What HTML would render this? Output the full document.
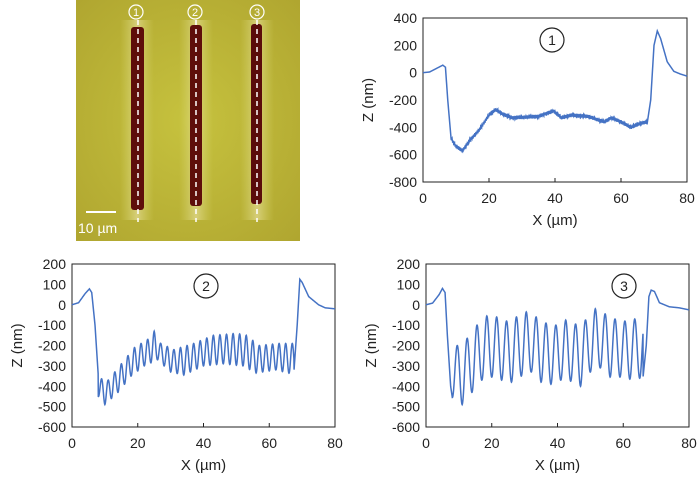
<!DOCTYPE html>
<html><head><meta charset="utf-8"><style>
body{margin:0;background:#fff;}
svg text{font-family:"Liberation Sans",Arial,sans-serif;fill:#222;}
</style></head><body>
<svg id="s" width="700" height="479" viewBox="0 0 700 479" xmlns="http://www.w3.org/2000/svg">
<defs>
<radialGradient id="bg" cx="0.5" cy="0.5" r="0.7"><stop offset="0" stop-color="#c6c23e"/><stop offset="1" stop-color="#b0a630"/></radialGradient>
<linearGradient id="glow" x1="0" x2="1"><stop offset="0" stop-color="#d8d870" stop-opacity="0"/><stop offset="0.5" stop-color="#e4dc98" stop-opacity="0.7"/><stop offset="1" stop-color="#d8d870" stop-opacity="0"/></linearGradient>
</defs>
<rect x="76" y="0" width="224" height="241" fill="url(#bg)"/>
<rect x="120" y="20" width="34" height="200" fill="url(#glow)"/>
<rect x="179" y="20" width="34" height="200" fill="url(#glow)"/>
<rect x="240" y="20" width="34" height="200" fill="url(#glow)"/>
<rect x="131" y="27" width="13" height="183" fill="#5e0e0a" rx="3"/>
<rect x="190" y="25" width="12" height="181" fill="#5e0e0a" rx="3"/>
<rect x="251" y="24" width="11" height="180" fill="#5a0c0a" rx="3"/>
<g stroke="#fff" stroke-width="1.5" stroke-dasharray="5,4">
<line x1="138" y1="20" x2="138" y2="222"/><line x1="196" y1="20" x2="196" y2="222"/><line x1="257" y1="20" x2="257" y2="222"/>
</g>
<g fill="none" stroke="#fff" stroke-width="1.2"><circle cx="136" cy="12" r="7"/><circle cx="195" cy="12" r="7"/><circle cx="257" cy="12" r="7"/></g>
<g font-size="11" text-anchor="middle"><text x="136" y="16" style="fill:#fff">1</text><text x="195" y="16" style="fill:#fff">2</text><text x="257" y="16" style="fill:#fff">3</text></g>
<line x1="86" y1="212" x2="116" y2="212" stroke="#fff" stroke-width="2"/>
<text x="78" y="233" font-size="14" style="fill:#fff">10 µm</text>
<g id="charts"></g>
</svg>
<script>
const NS="http://www.w3.org/2000/svg";
const g=document.getElementById('charts');
function el(t,a,txt){const e=document.createElementNS(NS,t);for(const k in a)e.setAttribute(k,a[k]);if(txt!==undefined)e.textContent=txt;g.appendChild(e);return e;}
function chart(x0,x1,y0,y1,ymax,ymin,step,fn,label,lx,xlab){
 el('rect',{x:x0,y:y0,width:x1-x0,height:y1-y0,fill:'none',stroke:'#222','stroke-width':1});
 const sx=v=>x0+(x1-x0)*v/80, sy=v=>y0+(y1-y0)*(ymax-v)/(ymax-ymin);
 for(let v=ymax;v>=ymin;v-=step){el('text',{x:x0-6,y:sy(v)+5,'font-size':14,'text-anchor':'end'},String(v));}
 for(let v=0;v<=80;v+=20){el('text',{x:sx(v),y:y1+21,'font-size':14,'text-anchor':'middle'},String(v));
  if(v>0&&v<80)el('line',{x1:sx(v),x2:sx(v),y1:y1,y2:y1-4,stroke:'#222'});}
 el('text',{x:(x0+x1)/2,y:y1+43,'font-size':15,'text-anchor':'middle'},xlab);
 const yc=(y0+y1)/2;
 el('text',{x:0,y:0,'font-size':15,'text-anchor':'middle',transform:`translate(${x0-50},${yc}) rotate(-90)`},'Z (nm)');
 el('circle',{cx:lx,cy:y0+22,r:12,fill:'none',stroke:'#222','stroke-width':1.2});
 el('text',{x:lx,y:y0+27,'font-size':14,'text-anchor':'middle'},label);
 let d='';for(let i=0;i<=1600;i++){const x=i*0.05;d+=(i?'L':'M')+sx(x).toFixed(2)+','+sy(fn(x)).toFixed(2);}
 el('path',{d:d,fill:'none',stroke:'#4472c4','stroke-width':1.5});
}
function interp(pts,x){for(let i=1;i<pts.length;i++){if(x<=pts[i][0]){const a=pts[i-1],b=pts[i];return a[1]+(b[1]-a[1])*(x-a[0])/(b[0]-a[0]);}}return pts[pts.length-1][1];}
function noise(x){return 8*Math.sin(x*17.3)+5*Math.sin(x*41.7);}
const p1=[[0,0],[2,5],[4,30],[6,55],[6.8,40],[7.5,-200],[8.5,-480],[10,-540],[12,-570],[14,-500],[17,-420],[20,-310],[22,-270],[24,-300],[27,-330],[35,-320],[39.5,-280],[42,-330],[45,-310],[50,-320],[55,-360],[57,-330],[60,-360],[63,-400],[66,-370],[68,-360],[69,-200],[70,200],[71,305],[72,250],[74,80],[76,10],[78,-10],[80,-25]];
chart(423,687,18,182,400,-800,200,x=>{let v=interp(p1,x);if(x>8.5&&x<68)v+=noise(x);return v;},'1',552,'X  (µm)');
const base2=[[0,0],[2,10],[4,55],[5.3,78],[6,60],[7,-100],[8,-350]];
const env2hi=[[8,-360],[11,-370],[15,-290],[19,-210],[23,-170],[25,-130],[27,-190],[31,-220],[37,-190],[43,-150],[47,-145],[50,-140],[53,-150],[57,-200],[63,-190],[67,-190]];
const env2lo=[[8,-450],[10,-490],[14,-430],[18,-350],[22,-300],[26,-270],[30,-330],[34,-345],[40,-300],[46,-290],[52,-300],[56,-335],[62,-320],[67,-340]];
chart(72,335,264,427,200,-600,100,x=>{
 if(x<8)return interp(base2,x);
 if(x>67.5){return interp([[67.5,-330],[68.5,-100],[69.3,125],[70,110],[72,40],[75,0],[77,-15],[80,-20]],x);}
 const c=Math.cos(2*Math.PI*(x-9)/2.0);const h=interp(env2hi,x),l=interp(env2lo,x);return l+(h-l)*(c+1)/2;
},'2',206,'X (µm)');
const env3hi=[[8,-200],[9.5,-200],[12.5,-165],[15.5,-100],[18.5,-55],[21.5,-60],[24.5,-80],[27.5,-60],[30.5,-35],[33.5,-60],[36.5,-90],[39.5,-100],[42.5,-75],[45.5,-95],[48.5,-75],[51.5,-20],[54.5,-45],[57.5,-70],[60.5,-80],[63.5,-70],[66,-70]];
const env3lo=[[8,-455],[11,-490],[14,-430],[17,-370],[20,-355],[23,-370],[26,-380],[29,-350],[32,-330],[35,-380],[38,-390],[41,-370],[44,-375],[47,-400],[50,-330],[53,-310],[56,-355],[59,-355],[62,-365],[65.5,-360]];
chart(426,689,264,427,200,-600,100,x=>{
 if(x<8)return interp([[0,0],[2,8],[4,50],[5,80],[5.8,60],[6.5,-150],[7.5,-400],[8,-455]],x);
 if(x>66){return interp([[66,-360],[67,-200],[67.8,40],[68.5,72],[69.5,65],[71,10],[74,-10],[77,-15],[80,-25]],x);}
 const c=Math.cos(2*Math.PI*(x-9.5)/3.0);const h=interp(env3hi,x),l=interp(env3lo,x);return l+(h-l)*(c+1)/2;
},'3',624,'X (µm)');
</script>
</body></html>
